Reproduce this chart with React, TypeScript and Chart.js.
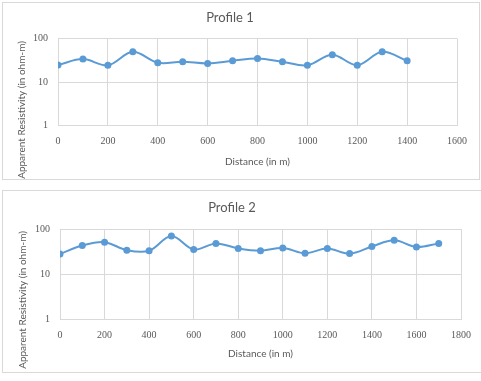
import React, { useEffect, useRef } from "react";
import { Chart, registerables } from "chart.js";

Chart.register(...registerables);

const profile1Distances = [0, 100, 200, 300, 400, 500, 600, 700, 800, 900, 1000, 1100, 1200, 1300, 1400];
const profile1Resistivity = [25, 34, 24.5, 50, 28, 29.5, 27, 31, 35, 29.5, 24.5, 43, 24.5, 50, 31];

const profile2Distances = [0, 100, 200, 300, 400, 500, 600, 700, 800, 900, 1000, 1100, 1200, 1300, 1400, 1500, 1600, 1700];
const profile2Resistivity = [28, 43, 51, 34, 33, 70, 35, 48, 37, 33, 38, 29, 37, 28.5, 41, 56, 40, 48];

const yTickValues = [1, 10, 100];
const yAxisTitle = "Apparent Resistivity (in ohm-m)";
const xAxisTitle = "Distance (in m)";

const TEXT = "#595959";
const GRID = "#d9d9d9";
const BLUE = "#5b9bd5";

type Layout = {
  w: number;
  h: number;
  left: number;
  right: number;
  top: number;
  bottom: number;
  titleCenter: number;
  tickCenter: number;
  xTitleCenter: number;
  yTitleX: number;
  yTitleCenter: number;
};

function ProfileChart(props: {
  title: string;
  xs: number[];
  ys: number[];
  xMax: number;
  L: Layout;
}) {
  const ref = useRef<HTMLCanvasElement | null>(null);
  useEffect(() => {
    const { L } = props;
    const yTitlePlugin = {
      id: "yTitle",
      afterDraw(chart: any) {
        const ctx = chart.ctx;
        ctx.save();
        ctx.translate(L.yTitleX, L.yTitleCenter);
        ctx.rotate(-Math.PI / 2);
        ctx.font = "10px Lato";
        ctx.fillStyle = TEXT;
        ctx.textAlign = "center";
        ctx.textBaseline = "middle";
        ctx.fillText(yAxisTitle, 0, 0);
        ctx.restore();
      },
    };
    const titleLH = 13 * 1.2;
    const chart = new Chart(ref.current!, {
      type: "line",
      data: {
        datasets: [
          {
            data: props.xs.map((x, i) => ({ x, y: props.ys[i] })),
            borderColor: BLUE,
            backgroundColor: BLUE,
            borderWidth: 2,
            pointRadius: 3.5,
            pointBackgroundColor: BLUE,
            pointBorderColor: BLUE,
            pointBorderWidth: 0,
            tension: 0.35,
          },
        ],
      },
      options: {
        animation: false,
        responsive: false,
        maintainAspectRatio: false,
        layout: { padding: { left: 0, right: L.w - L.right, top: 0, bottom: 0 } },
        plugins: {
          legend: { display: false },
          tooltip: { enabled: false },
          title: {
            display: true,
            text: props.title,
            color: TEXT,
            font: { family: "Lato", size: 13, weight: "normal" },
            padding: {
              top: L.titleCenter - titleLH / 2,
              bottom: L.top - (L.titleCenter - titleLH / 2) - titleLH,
            },
          },
        },
        scales: {
          x: {
            type: "linear",
            min: 0,
            max: props.xMax,
            ticks: {
              stepSize: 200,
              color: TEXT,
              font: { family: "Liberation Serif", size: 10 },
              padding: L.tickCenter - L.bottom - 6,
              maxRotation: 0,
              callback: (v: any) => String(v),
            },
            grid: { color: GRID, drawTicks: false },
            border: { color: GRID },
            title: {
              display: true,
              text: xAxisTitle,
              color: TEXT,
              font: { family: "Lato", size: 10 },
              padding: { top: 0, bottom: L.h - L.xTitleCenter - 6 },
            },
            afterFit: (s: any) => {
              s.height = L.h - L.bottom;
            },
          },
          y: {
            type: "logarithmic",
            min: 1,
            max: 100,
            afterBuildTicks: (s: any) => {
              s.ticks = yTickValues.map((v) => ({ value: v }));
            },
            ticks: {
              color: TEXT,
              font: { family: "Liberation Serif", size: 10 },
              padding: 10,
              callback: (v: any) => String(v),
            },
            grid: { color: GRID, drawTicks: false },
            border: { color: GRID },
            afterFit: (s: any) => {
              s.width = L.left;
            },
          },
        },
      },
      plugins: [yTitlePlugin],
    } as any);
    return () => chart.destroy();
  }, []);
  return <canvas ref={ref} width={props.L.w} height={props.L.h} style={{ display: "block", width: props.L.w, height: props.L.h }} />;
}

const layout1: Layout = {
  w: 476,
  h: 176,
  left: 55,
  right: 454,
  top: 35.7,
  bottom: 122.7,
  titleCenter: 15,
  tickCenter: 138,
  xTitleCenter: 159,
  yTitleX: 19,
  yTitleCenter: 107,
};

const layout2: Layout = {
  w: 478,
  h: 181,
  left: 57,
  right: 458,
  top: 38,
  bottom: 128.3,
  titleCenter: 17,
  tickCenter: 144,
  xTitleCenter: 163,
  yTitleX: 20,
  yTitleCenter: 109,
};

export default function App() {
  return (
    <div style={{ position: "fixed", left: 0, top: 0, width: 481, height: 381, background: "#fff" }}>
      <div style={{ position: "absolute", left: 2, top: 2, border: `1px solid ${GRID}` }}>
        <ProfileChart title="Profile 1" xs={profile1Distances} ys={profile1Resistivity} xMax={1600} L={layout1} />
      </div>
      <div style={{ position: "absolute", left: 2, top: 190, border: `1px solid ${GRID}` }}>
        <ProfileChart title="Profile 2" xs={profile2Distances} ys={profile2Resistivity} xMax={1800} L={layout2} />
      </div>
    </div>
  );
}
